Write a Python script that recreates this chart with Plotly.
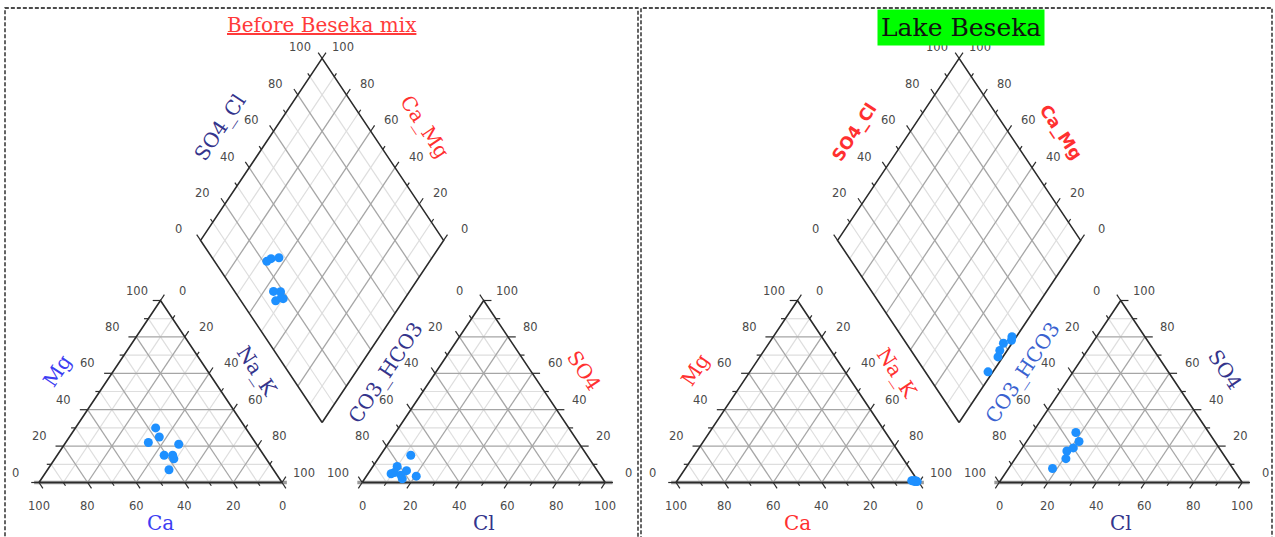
import numpy as np
import plotly.graph_objects as go

# ---------------- data (percent of meq) ----------------
# Panel 1: "Before Beseka mix"
before_ca = [37, 38, 44, 32, 41, 38, 37.5, 43]
before_mg = [30, 25, 22, 21, 15, 13, 15, 7]
before_nak = [33, 37, 34, 47, 44, 49, 47.5, 50]
before_cl = [15, 12.5, 20.5, 10, 10.5, 15.5, 9.5, 14]
before_so4 = [6.5, 15, 3.5, 8.8, 5.5, 2, 4.8, 4]
before_hco3 = [100 - c - s for c, s in zip(before_cl, before_so4)]

# Panel 2: "Lake Beseka"
lake_ca = [1.0, 0.5, 2.0, 1.5, 1.0, 2.5]
lake_mg = [0.8, 0.5, 1.0, 0.5, 1.0, 1.0]
lake_nak = [100 - c - m for c, m in zip(lake_ca, lake_mg)]
lake_cl = [17.8, 21.6, 19.2, 20.9, 18.1, 21.0]
lake_so4 = [27.5, 22.5, 17.3, 13.1, 7.7, 19.0]
lake_hco3 = [100 - c - s for c, s in zip(lake_cl, lake_so4)]

tick_values = [0, 20, 40, 60, 80, 100]
tick_labels = ["0", "20", "40", "60", "80", "100"]
minor_values = [10, 30, 50, 70, 90]

panel_titles = ["Before Beseka mix", "Lake Beseka"]

# ---------------- geometry ----------------
H = np.sqrt(3) / 2
GAP = 33.0
X_AN = 100 + GAP
BX, BY = 100 + GAP / 2, GAP * H

W, HT = 1275, 537
PX_X = 2.43       # px per x-unit
PX_Y = 2.1016     # px per y-unit
SPLIT = 637


def tri_pt(x0, right, top):
    return x0 + right + top / 2.0, top * H


def dia_pt(a, b):
    return BX + (b - a) / 2.0, BY + (a + b) * H


def seg_add(xs, ys, p, q):
    xs += [p[0], q[0], None]
    ys += [p[1], q[1], None]


BLACK = "#2b2b2b"
BLUE = "#3d3df2"
NAVY = "#34348c"
RED = "#ff3030"
MIDBLUE = "#3a62d0"
MARK = "#1e90ff"

fig = go.Figure()
annotations = []


def build_panel(xa, ca, mg, nak, hco3, cl, so4, styles):
    xref = xa
    # ---- grid lines ----
    def grid(values):
        xs, ys = [], []
        for v in values:
            for x0 in (0, X_AN):
                seg_add(xs, ys, tri_pt(x0, 0, v), tri_pt(x0, 100 - v, v))
                seg_add(xs, ys, tri_pt(x0, v, 0), tri_pt(x0, v, 100 - v))
                seg_add(xs, ys, tri_pt(x0, 100 - v, 0), tri_pt(x0, 0, 100 - v))
            seg_add(xs, ys, dia_pt(v, 0), dia_pt(v, 100))
            seg_add(xs, ys, dia_pt(0, v), dia_pt(100, v))
        return xs, ys

    gx, gy = grid(minor_values)
    fig.add_trace(go.Scatter(x=gx, y=gy, mode="lines", xaxis=xa, yaxis="y",
                             line=dict(color="#dedede", width=1.2), hoverinfo="skip"))
    gx, gy = grid([20, 40, 60, 80])
    fig.add_trace(go.Scatter(x=gx, y=gy, mode="lines", xaxis=xa, yaxis="y",
                             line=dict(color="#a6a6a6", width=1.3), hoverinfo="skip"))
    # thick base bands
    bx, by = [], []
    seg_add(bx, by, tri_pt(0, -2, 0), tri_pt(0, 102, 0))
    seg_add(bx, by, tri_pt(X_AN, -2, 0), tri_pt(X_AN, 103, 0))
    fig.add_trace(go.Scatter(x=bx, y=by, mode="lines", xaxis=xa, yaxis="y",
                             line=dict(color="#9a9a9a", width=3.5), hoverinfo="skip"))

    # ---- ticks ----
    tx, ty = [], []
    sides = [
        # (point function of v, outward direction, label offset)
        (lambda v: tri_pt(0, 0, v), (-1, 0), (-24, 10)),            # Mg
        (lambda v: tri_pt(0, v, 100 - v), (0.5, H), (22, 10)),     # Na_K
        (lambda v: tri_pt(0, 100 - v, 0), (0.5, -H), (0, -23)),    # Ca
        (lambda v: tri_pt(X_AN, 0, 100 - v), (-0.5, H), (-24, 10)),  # CO3_HCO3
        (lambda v: tri_pt(X_AN, 100 - v, v), (1, 0), (23, 10)),    # SO4
        (lambda v: tri_pt(X_AN, v, 0), (-0.5, -H), (0, -23)),      # Cl
        (lambda v: dia_pt(100, v), (-0.5, H), (-22, 11)),          # SO4_Cl
        (lambda v: dia_pt(v, 100), (0.5, H), (21, 11)),            # Ca_Mg
    ]
    for f, d, off in sides:
        for v in range(0, 101, 10):
            p = f(v)
            L = 3.2 if v % 20 == 0 else 1.8
            seg_add(tx, ty, p, (p[0] + d[0] * L, p[1] + d[1] * L))
        for v, lab in zip(tick_values, tick_labels):
            p = f(v)
            annotations.append(dict(x=p[0], y=p[1], xref=xref, yref="y", text=lab,
                                    showarrow=False, xshift=off[0], yshift=off[1],
                                    xanchor="center", yanchor="middle",
                                    font=dict(family="DejaVu Sans", size=11.5, color="#4a4a4a")))
    fig.add_trace(go.Scatter(x=tx, y=ty, mode="lines", xaxis=xa, yaxis="y",
                             line=dict(color=BLACK, width=1.2), hoverinfo="skip"))

    # ---- outlines ----
    ox, oy = [], []
    for x0 in (0, X_AN):
        pts = [tri_pt(x0, 0, 0), tri_pt(x0, 100, 0), tri_pt(x0, 0, 100), tri_pt(x0, 0, 0)]
        ox += [p[0] for p in pts] + [None]
        oy += [p[1] for p in pts] + [None]
    pts = [dia_pt(0, 0), dia_pt(100, 0), dia_pt(100, 100), dia_pt(0, 100), dia_pt(0, 0)]
    ox += [p[0] for p in pts]
    oy += [p[1] for p in pts]
    fig.add_trace(go.Scatter(x=ox, y=oy, mode="lines", xaxis=xa, yaxis="y",
                             line=dict(color=BLACK, width=1.6), hoverinfo="skip"))

    # ---- data points ----
    px, py = [], []
    for c, m, n in zip(ca, mg, nak):
        t = c + m + n
        p = tri_pt(0, 100 * n / t, 100 * m / t)
        px.append(p[0]); py.append(p[1])
    for h, c, s in zip(hco3, cl, so4):
        t = h + c + s
        p = tri_pt(X_AN, 100 * c / t, 100 * s / t)
        px.append(p[0]); py.append(p[1])
    for c, m, n, h, cc, s in zip(ca, mg, nak, hco3, cl, so4):
        a = 100 * (c + m) / (c + m + n)
        b = 100 * (cc + s) / (h + cc + s)
        p = dia_pt(a, b)
        px.append(p[0]); py.append(p[1])
    fig.add_trace(go.Scatter(x=px, y=py, mode="markers", xaxis=xa, yaxis="y",
                             marker=dict(color=MARK, size=9, line=dict(width=0)),
                             hoverinfo="skip"))

    # ---- axis titles ----
    for key, (pt, text, ang) in {
        "Mg": (tri_pt(0, 0, 50), "Mg", -56.3),
        "Na_K": (tri_pt(0, 50, 50), "Na_K", 56.3),
        "Ca": (tri_pt(0, 50, 0), "Ca", 0),
        "CO3_HCO3": (tri_pt(X_AN, 0, 50), "CO3_HCO3", -56.3),
        "SO4": (tri_pt(X_AN, 50, 50), "SO4", 56.3),
        "Cl": (tri_pt(X_AN, 50, 0), "Cl", 0),
        "SO4_Cl": (dia_pt(100, 50), "SO4_Cl", -56.3),
        "Ca_Mg": (dia_pt(50, 100), "Ca_Mg", 56.3),
    }.items():
        st = styles[key]
        annotations.append(dict(x=pt[0], y=pt[1], xref=xref, yref="y", text=text,
                                showarrow=False, textangle=ang,
                                xanchor="center", yanchor="middle",
                                xshift=st["off"][0], yshift=st["off"][1],
                                font=dict(family=st.get("family", "DejaVu Serif"),
                                          size=st.get("size", 20), color=st["color"],
                                          weight=st.get("weight", "normal"))))


styles_left = {
    "Mg": dict(color=BLUE, off=(-43, 21)),
    "Na_K": dict(color=NAVY, off=(36, 21)),
    "Ca": dict(color=BLUE, off=(0, -40)),
    "CO3_HCO3": dict(color=NAVY, off=(-38, 19)),
    "SO4": dict(color=RED, off=(40, 21)),
    "Cl": dict(color=NAVY, off=(0, -40)),
    "SO4_Cl": dict(color=NAVY, off=(-41, 22)),
    "Ca_Mg": dict(color=RED, off=(42, 22)),
}
styles_right = {
    "Mg": dict(color=RED, off=(-42, 22)),
    "Na_K": dict(color=RED, off=(39, 19)),
    "Ca": dict(color=RED, off=(0, -40)),
    "CO3_HCO3": dict(color=MIDBLUE, off=(-38, 19)),
    "SO4": dict(color=NAVY, off=(44, 22)),
    "Cl": dict(color=NAVY, off=(0, -40)),
    "SO4_Cl": dict(color=RED, off=(-44, 17), family="DejaVu Sans", size=17, weight="bold"),
    "Ca_Mg": dict(color=RED, off=(41, 17), family="DejaVu Sans", size=17, weight="bold"),
}

build_panel("x", before_ca, before_mg, before_nak, before_hco3, before_cl, before_so4, styles_left)
build_panel("x2", lake_ca, lake_mg, lake_nak, lake_hco3, lake_cl, lake_so4, styles_right)

# titles
annotations.append(dict(x=322 / W, y=1 - 25 / HT, xref="paper", yref="paper",
                        xanchor="center", yanchor="middle",
                        text="<u>" + panel_titles[0] + "</u>", showarrow=False,
                        font=dict(family="DejaVu Serif", size=20, color="#ff3a3a")))
annotations.append(dict(x=961 / W, y=1 - 27 / HT, xref="paper", yref="paper",
                        xanchor="center", yanchor="middle",
                        text=panel_titles[1], showarrow=False, bgcolor="#00ff00",
                        borderpad=3,
                        font=dict(family="DejaVu Serif", size=25, color="#111111")))

# dashed panel borders
shapes = [
    dict(type="rect", xref="paper", yref="paper", x0=5 / W, x1=638 / W,
         y0=-0.05, y1=1 - 8 / HT, line=dict(color="#111111", width=1.3, dash="4px,2px")),
    dict(type="rect", xref="paper", yref="paper", x0=641 / W, x1=1272 / W,
         y0=-0.05, y1=1 - 8 / HT, line=dict(color="#111111", width=1.3, dash="4px,2px")),
]

ox_left = 39
ox_right = 676
y_base = 482.5
fig.update_layout(
    width=W, height=HT, margin=dict(l=0, r=0, t=0, b=0),
    paper_bgcolor="white", plot_bgcolor="white", showlegend=False,
    xaxis=dict(domain=[0, SPLIT / W], range=[-ox_left / PX_X, (SPLIT - ox_left) / PX_X],
               visible=False, anchor="y"),
    xaxis2=dict(domain=[SPLIT / W, 1], range=[(SPLIT - ox_right) / PX_X, (W - ox_right) / PX_X],
                visible=False, anchor="y"),
    yaxis=dict(domain=[0, 1], range=[(y_base - HT) / PX_Y, y_base / PX_Y],
               visible=False, anchor="x"),
    annotations=annotations, shapes=shapes,
)

fig.write_html("out.html", config={"displayModeBar": False},
               post_script="document.body.style.margin='0';")
